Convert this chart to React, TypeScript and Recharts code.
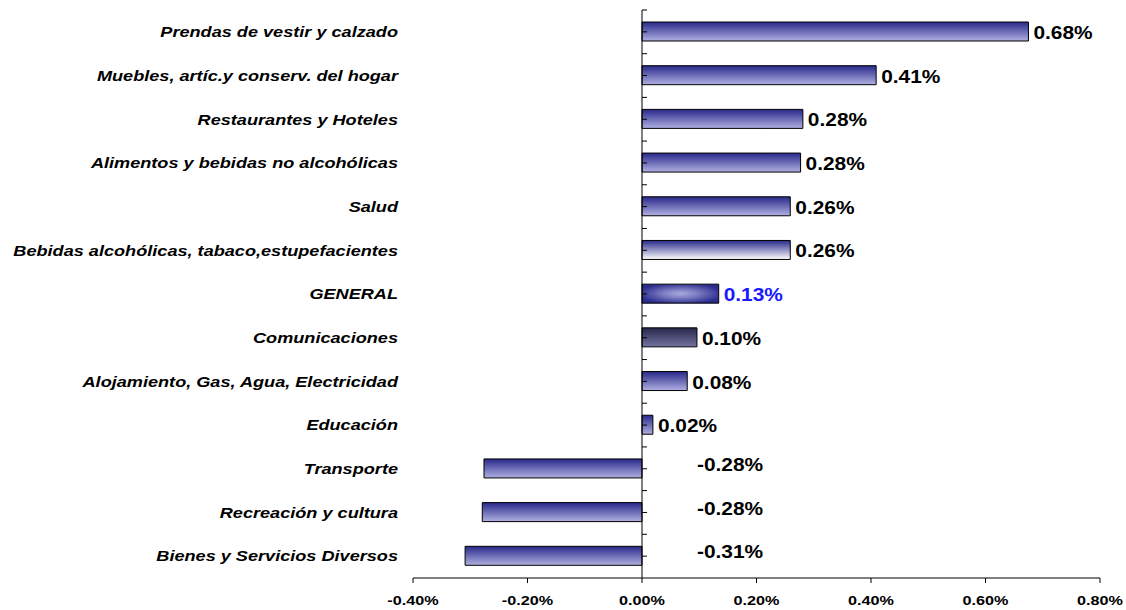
import { BarChart, Bar, XAxis, YAxis, Cell, LabelList, ReferenceLine } from 'recharts';

const categories = [
  'Prendas de vestir y calzado',
  'Muebles, artíc.y conserv. del hogar',
  'Restaurantes y Hoteles',
  'Alimentos y bebidas no alcohólicas',
  'Salud',
  'Bebidas alcohólicas, tabaco,estupefacientes',
  'GENERAL',
  'Comunicaciones',
  'Alojamiento, Gas, Agua, Electricidad ',
  'Educación',
  'Transporte',
  'Recreación y cultura',
  'Bienes y Servicios Diversos',
];

const values = [0.675, 0.409, 0.281, 0.277, 0.259, 0.259, 0.134, 0.096, 0.079, 0.019, -0.276, -0.279, -0.309];

const xTicks = [-0.4, -0.2, 0, 0.2, 0.4, 0.6, 0.8];

const data = categories.map((name, i) => ({ name, value: values[i] }));

const W = 1126;
const H = 610;
const M = { top: 10, right: 26, bottom: 2, left: 13 };
const Y_W = 400;
const X_H = 30;
const DOMAIN: [number, number] = [-0.4, 0.8];
const FONT = "Arial, 'Liberation Sans', sans-serif";

const plotLeft = M.left + Y_W;
const plotW = W - plotLeft - M.right;
const plotH = H - M.top - M.bottom - X_H;
const band = plotH / categories.length;
const zeroX = plotLeft + ((0 - DOMAIN[0]) / (DOMAIN[1] - DOMAIN[0])) * plotW;

const fillFor = (name: string) => {
  if (name === 'GENERAL') return 'url(#gGeneral)';
  if (name === 'Comunicaciones') return 'url(#gComm)';
  if (name.startsWith('Bebidas')) return 'url(#gLight)';
  return 'url(#gBar)';
};

// the original was drawn with wide glyphs, so stretch text horizontally
const CategoryTick = (props: any) => {
  const { x, y, payload } = props;
  return (
    <g>
      <text
        transform={`translate(${x},${y}) scale(1.25,1)`}
        textAnchor="end"
        dominantBaseline="central"
        fontFamily={FONT}
        fontSize={14.5}
        fontWeight="bold"
        fontStyle="italic"
        fill="#000"
      >
        {payload.value}
      </text>
      <line x1={zeroX} x2={zeroX + 5} y1={y} y2={y} stroke="#000" />
      <line x1={zeroX} x2={zeroX + 5} y1={y - band / 2} y2={y - band / 2} stroke="#000" />
    </g>
  );
};

const XTick = (props: any) => {
  const { x, y, payload } = props;
  return (
    <text
      transform={`translate(${x},${y + 15}) scale(1.2,1)`}
      textAnchor="middle"
      dominantBaseline="central"
      fontFamily={FONT}
      fontSize={13.5}
      fontWeight="bold"
      fill="#000"
    >
      {payload.value.toFixed(2) + '%'}
    </text>
  );
};

const ValueLabel = (props: any) => {
  const { x, y, width, height, value, index } = props;
  const neg = value < 0;
  const right = Math.max(x, x + width);
  const tx = neg ? right + 55 : right + 5;
  const ty = y + height / 2 + (neg ? -4 : 1);
  const blue = categories[index] === 'GENERAL';
  return (
    <text
      transform={`translate(${tx},${ty}) scale(1.16,1)`}
      dominantBaseline="central"
      fontFamily={FONT}
      fontSize={18}
      fontWeight="bold"
      fill={blue ? '#1a1aff' : '#000'}
    >
      {value.toFixed(2) + '%'}
    </text>
  );
};

export default function App() {
  return (
    <div style={{ position: 'absolute', left: 0, top: 0, width: W, height: H, background: '#fff' }}>
      <BarChart width={W} height={H} data={data} layout="vertical" margin={M} barSize={19}>
        <defs>
          <linearGradient id="gBar" x1="0" y1="0" x2="0" y2="1">
            <stop offset="0%" stopColor="#28288a" />
            <stop offset="100%" stopColor="#b0b0e2" />
          </linearGradient>
          <linearGradient id="gLight" x1="0" y1="0" x2="0" y2="1">
            <stop offset="0%" stopColor="#28288a" />
            <stop offset="100%" stopColor="#ffffff" />
          </linearGradient>
          <linearGradient id="gComm" x1="0" y1="0" x2="0" y2="1">
            <stop offset="0%" stopColor="#26264a" />
            <stop offset="100%" stopColor="#7474a4" />
          </linearGradient>
          <radialGradient id="gGeneral" cx="0.5" cy="0.5" r="0.55">
            <stop offset="0%" stopColor="#a8a8de" />
            <stop offset="35%" stopColor="#8484c8" />
            <stop offset="100%" stopColor="#2c2c8e" />
          </radialGradient>
        </defs>
        <XAxis
          type="number"
          domain={DOMAIN}
          ticks={xTicks}
          height={X_H}
          axisLine={{ stroke: '#000' }}
          tickLine={{ stroke: '#000' }}
          tickSize={5}
          tickMargin={2}
          tick={<XTick />}
        />
        <YAxis
          type="category"
          dataKey="name"
          width={Y_W}
          axisLine={false}
          tickLine={false}
          tickSize={0}
          tickMargin={15}
          interval={0}
          tick={<CategoryTick />}
        />
        <ReferenceLine x={0} stroke="#000" />
        <Bar dataKey="value" stroke="#000" strokeWidth={1} isAnimationActive={false}>
          {data.map((d) => (
            <Cell key={d.name} fill={fillFor(d.name)} />
          ))}
          <LabelList dataKey="value" content={<ValueLabel />} />
        </Bar>
      </BarChart>
    </div>
  );
}
